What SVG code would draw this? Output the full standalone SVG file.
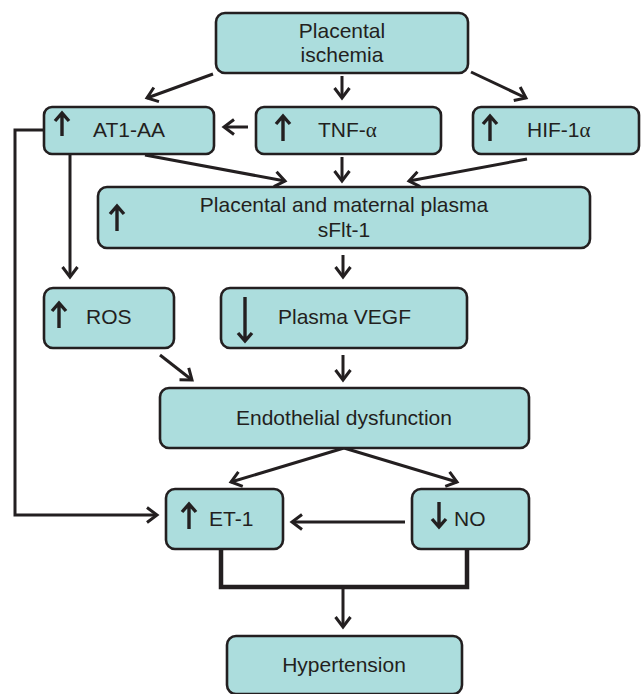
<svg xmlns="http://www.w3.org/2000/svg" width="642" height="694" viewBox="0 0 642 694">
  <style>
    .box { fill: #acdddd; stroke: #231f20; stroke-width: 2.6; }
    .lbl { font-family: "Liberation Sans", Arial, sans-serif; font-size: 21px; fill: #231f20; }
    .mid { text-anchor: middle; }
    .gr { font-family: "Liberation Serif", "Times New Roman", serif; }
    .ico { fill: none; stroke: #231f20; stroke-width: 3.4; stroke-linejoin: miter; stroke-miterlimit: 10; }
    .con { fill: none; stroke: #231f20; stroke-width: 3; }
    .thick { fill: none; stroke: #231f20; stroke-width: 4.5; }
  </style>
  <defs>
    <marker id="head" markerUnits="userSpaceOnUse" viewBox="-14 -10 18 20" refX="0" refY="0" markerWidth="18" markerHeight="20" orient="auto">
      <path d="M -10 -7.5 L 0 0 L -10 7.5" fill="none" stroke="#231f20" stroke-width="3"/>
    </marker>
  </defs>

  <!-- connectors -->
  <g id="connectors">
    <line class="con" x1="213" y1="74" x2="147" y2="98" marker-end="url(#head)"/>
    <line class="con" x1="342" y1="76" x2="342" y2="98" marker-end="url(#head)"/>
    <line class="con" x1="471" y1="72" x2="526" y2="98" marker-end="url(#head)"/>
    <line class="con" x1="248" y1="127" x2="224" y2="127" marker-end="url(#head)"/>
    <line class="con" x1="145" y1="155" x2="285" y2="181" marker-end="url(#head)"/>
    <line class="con" x1="342" y1="157" x2="342" y2="181" marker-end="url(#head)"/>
    <line class="con" x1="527" y1="159" x2="409" y2="181" marker-end="url(#head)"/>
    <line class="con" x1="70" y1="154" x2="70" y2="277" marker-end="url(#head)"/>
    <polyline class="con" points="44,130 15,130 15,515 157,515" marker-end="url(#head)"/>
    <line class="con" x1="343" y1="255" x2="343" y2="277" marker-end="url(#head)"/>
    <line class="con" x1="160" y1="355" x2="192" y2="380" marker-end="url(#head)"/>
    <line class="con" x1="343" y1="355" x2="343" y2="380" marker-end="url(#head)"/>
    <line class="con" x1="344" y1="448" x2="231" y2="482" marker-end="url(#head)"/>
    <line class="con" x1="344" y1="448" x2="457" y2="482" marker-end="url(#head)"/>
    <line class="con" x1="405" y1="522" x2="292" y2="522" marker-end="url(#head)"/>
    <polyline class="thick" points="221,549 221,587 467,587 467,549"/>
    <line class="con" x1="343" y1="587" x2="343" y2="627" marker-end="url(#head)"/>
  </g>

  <g id="placental-ischemia">
    <rect class="box" x="216" y="13" width="252" height="60" rx="9"/>
    <text class="lbl mid" x="342" y="38">Placental</text>
    <text class="lbl mid" x="342" y="62">ischemia</text>
  </g>

  <g id="at1-aa">
    <rect class="box" x="44" y="107" width="170" height="47" rx="8"/>
    <path class="ico" d="M62 136 V113 M55 121 L62 113 L69 121"/>
    <text class="lbl" x="93" y="137">AT1-AA</text>
  </g>

  <g id="tnf-alpha">
    <rect class="box" x="256" y="107" width="185" height="47" rx="8"/>
    <path class="ico" d="M283 141 V116 M276 124 L283 116 L290 124"/>
    <text class="lbl" x="318" y="137">TNF-<tspan class="gr">α</tspan></text>
  </g>

  <g id="hif-1alpha">
    <rect class="box" x="473" y="107" width="166" height="47" rx="8"/>
    <path class="ico" d="M490 141 V116 M483 124 L490 116 L497 124"/>
    <text class="lbl" x="527" y="137">HIF-1<tspan class="gr">α</tspan></text>
  </g>

  <g id="sflt-1">
    <rect class="box" x="98" y="187" width="492" height="61" rx="9"/>
    <path class="ico" d="M117 231 V206 M110 214 L117 206 L124 214"/>
    <text class="lbl mid" x="344" y="212">Placental and maternal plasma</text>
    <text class="lbl mid" x="344" y="237">sFlt-1</text>
  </g>

  <g id="ros">
    <rect class="box" x="44" y="288" width="130" height="60" rx="9"/>
    <path class="ico" d="M59 328 V303 M52 311 L59 303 L66 311"/>
    <text class="lbl" x="86" y="324">ROS</text>
  </g>

  <g id="plasma-vegf">
    <rect class="box" x="221" y="288" width="246" height="60" rx="9"/>
    <path class="ico" d="M245 297 V341 M238 333 L245 341 L252 333"/>
    <text class="lbl" x="278" y="324">Plasma VEGF</text>
  </g>

  <g id="endothelial-dysfunction">
    <rect class="box" x="160" y="388" width="369" height="60" rx="9"/>
    <text class="lbl mid" x="344" y="425">Endothelial dysfunction</text>
  </g>

  <g id="et-1">
    <rect class="box" x="166" y="489" width="117" height="60" rx="9"/>
    <path class="ico" d="M189 529 V504 M182 512 L189 504 L196 512"/>
    <text class="lbl" x="209" y="526">ET-1</text>
  </g>

  <g id="no">
    <rect class="box" x="412" y="489" width="117" height="60" rx="9"/>
    <path class="ico" d="M439 502 V527 M432 519 L439 527 L446 519"/>
    <text class="lbl" x="454" y="526">NO</text>
  </g>

  <g id="hypertension">
    <rect class="box" x="227" y="636" width="235" height="58" rx="9"/>
    <text class="lbl mid" x="344" y="672">Hypertension</text>
  </g>
</svg>
